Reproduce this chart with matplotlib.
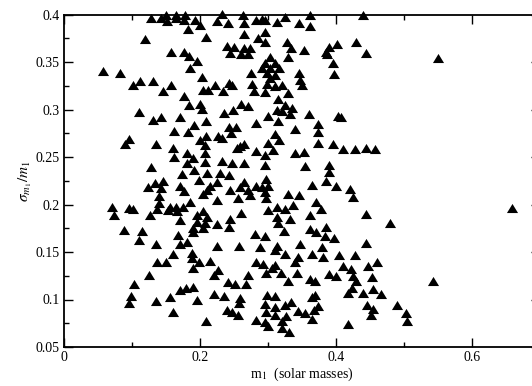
import matplotlib
matplotlib.use("Agg")
import matplotlib.pyplot as plt
from matplotlib.ticker import MultipleLocator, FuncFormatter

# Primary mass estimates (solar masses) and fractional uncertainty sigma_m1/m1
m1 = [
    0.128, 0.143, 0.150, 0.151, 0.165, 0.165, 0.178, 0.176, 0.193, 0.200,
    0.183, 0.209, 0.119, 0.157, 0.176, 0.184, 0.195, 0.186, 0.057, 0.083,
    0.203, 0.101, 0.112, 0.131, 0.145, 0.157, 0.205, 0.212, 0.177, 0.184,
    0.200, 0.203, 0.111, 0.142, 0.170, 0.131, 0.233, 0.225, 0.241, 0.263,
    0.264, 0.283, 0.291, 0.296, 0.313, 0.325, 0.346, 0.362, 0.362, 0.264,
    0.295, 0.285, 0.296, 0.239, 0.250, 0.244, 0.265, 0.274, 0.261, 0.270,
    0.328, 0.334, 0.353, 0.329, 0.303, 0.296, 0.310, 0.291, 0.303, 0.316,
    0.298, 0.310, 0.303, 0.275, 0.345, 0.347, 0.350, 0.276, 0.298, 0.310,
    0.321, 0.280, 0.295, 0.330, 0.222, 0.243, 0.247, 0.234, 0.314, 0.260,
    0.271, 0.325, 0.313, 0.336, 0.248, 0.235, 0.321, 0.361, 0.439, 0.401,
    0.389, 0.385, 0.387, 0.429, 0.444, 0.396, 0.397, 0.403, 0.408, 0.209,
    0.191, 0.162, 0.183, 0.096, 0.090, 0.135, 0.200, 0.209, 0.207, 0.160,
    0.162, 0.181, 0.189, 0.207, 0.181, 0.207, 0.128, 0.191, 0.173, 0.199,
    0.210, 0.145, 0.134, 0.123, 0.170, 0.142, 0.176, 0.140, 0.205, 0.211,
    0.140, 0.185, 0.156, 0.165, 0.175, 0.153, 0.166, 0.137, 0.070, 0.095,
    0.102, 0.073, 0.126, 0.195, 0.205, 0.210, 0.171, 0.283, 0.300, 0.314,
    0.332, 0.340, 0.242, 0.253, 0.246, 0.227, 0.232, 0.310, 0.300, 0.316,
    0.259, 0.265, 0.254, 0.283, 0.295, 0.308, 0.340, 0.353, 0.354, 0.232,
    0.247, 0.264, 0.296, 0.229, 0.243, 0.225, 0.215, 0.264, 0.259, 0.244,
    0.270, 0.283, 0.291, 0.297, 0.300, 0.295, 0.256, 0.274, 0.297, 0.330,
    0.346, 0.225, 0.337, 0.313, 0.261, 0.300, 0.325, 0.362, 0.244, 0.332,
    0.313, 0.314, 0.374, 0.374, 0.373, 0.396, 0.410, 0.428, 0.444, 0.457,
    0.389, 0.389, 0.386, 0.400, 0.364, 0.421, 0.425, 0.371, 0.378, 0.444,
    0.479, 0.195, 0.207, 0.189, 0.204, 0.190, 0.088, 0.114, 0.111, 0.167,
    0.135, 0.170, 0.181, 0.160, 0.188, 0.137, 0.150, 0.188, 0.198, 0.189,
    0.125, 0.103, 0.170, 0.179, 0.190, 0.098, 0.096, 0.136, 0.156, 0.195,
    0.161, 0.209, 0.225, 0.243, 0.324, 0.281, 0.296, 0.362, 0.371, 0.225,
    0.257, 0.288, 0.313, 0.310, 0.325, 0.347, 0.344, 0.215, 0.283, 0.292,
    0.311, 0.306, 0.319, 0.297, 0.340, 0.342, 0.227, 0.220, 0.271, 0.241,
    0.252, 0.267, 0.330, 0.362, 0.369, 0.221, 0.236, 0.259, 0.257, 0.298,
    0.310, 0.239, 0.247, 0.256, 0.295, 0.297, 0.311, 0.325, 0.334, 0.344,
    0.354, 0.367, 0.310, 0.327, 0.282, 0.295, 0.321, 0.386, 0.384, 0.397,
    0.444, 0.379, 0.364, 0.381, 0.405, 0.428, 0.411, 0.422, 0.447, 0.461,
    0.389, 0.400, 0.425, 0.429, 0.453, 0.423, 0.418, 0.440, 0.454, 0.466,
    0.369, 0.364, 0.373, 0.445, 0.454, 0.452, 0.490, 0.503, 0.505, 0.364,
    0.418, 0.550, 0.659, 0.543, 0.300, 0.320, 0.331,
]

sigma_frac = [
    0.396, 0.396, 0.399, 0.393, 0.400, 0.396, 0.400, 0.394, 0.394, 0.389,
    0.385, 0.376, 0.374, 0.361, 0.361, 0.356, 0.351, 0.344, 0.341, 0.338,
    0.334, 0.326, 0.330, 0.330, 0.320, 0.326, 0.321, 0.321, 0.314, 0.305,
    0.306, 0.301, 0.297, 0.292, 0.292, 0.289, 0.401, 0.393, 0.391, 0.399,
    0.391, 0.394, 0.395, 0.394, 0.392, 0.397, 0.391, 0.399, 0.388, 0.379,
    0.382, 0.375, 0.371, 0.367, 0.366, 0.360, 0.365, 0.365, 0.358, 0.358,
    0.371, 0.365, 0.363, 0.355, 0.355, 0.349, 0.349, 0.344, 0.344, 0.344,
    0.338, 0.336, 0.333, 0.338, 0.338, 0.331, 0.326, 0.327, 0.327, 0.325,
    0.326, 0.320, 0.318, 0.317, 0.326, 0.328, 0.326, 0.319, 0.311, 0.306,
    0.304, 0.305, 0.300, 0.302, 0.300, 0.296, 0.298, 0.295, 0.400, 0.369,
    0.366, 0.361, 0.358, 0.371, 0.359, 0.349, 0.337, 0.293, 0.292, 0.288,
    0.284, 0.277, 0.276, 0.269, 0.264, 0.264, 0.268, 0.272, 0.263, 0.260,
    0.250, 0.254, 0.249, 0.254, 0.244, 0.245, 0.239, 0.236, 0.232, 0.226,
    0.233, 0.225, 0.223, 0.218, 0.219, 0.217, 0.214, 0.209, 0.211, 0.215,
    0.202, 0.203, 0.197, 0.197, 0.197, 0.194, 0.193, 0.195, 0.197, 0.196,
    0.195, 0.189, 0.189, 0.189, 0.193, 0.187, 0.184, 0.286, 0.293, 0.288,
    0.295, 0.280, 0.282, 0.282, 0.275, 0.272, 0.270, 0.274, 0.265, 0.268,
    0.262, 0.264, 0.260, 0.256, 0.252, 0.257, 0.254, 0.255, 0.241, 0.246,
    0.244, 0.244, 0.242, 0.233, 0.231, 0.224, 0.220, 0.224, 0.218, 0.215,
    0.215, 0.220, 0.218, 0.227, 0.219, 0.213, 0.207, 0.210, 0.207, 0.211,
    0.210, 0.205, 0.200, 0.197, 0.191, 0.194, 0.195, 0.189, 0.185, 0.185,
    0.187, 0.181, 0.285, 0.276, 0.265, 0.264, 0.258, 0.258, 0.260, 0.258,
    0.242, 0.234, 0.225, 0.220, 0.221, 0.216, 0.208, 0.203, 0.195, 0.190,
    0.181, 0.182, 0.181, 0.175, 0.175, 0.171, 0.173, 0.172, 0.163, 0.168,
    0.158, 0.158, 0.161, 0.148, 0.149, 0.139, 0.140, 0.144, 0.140, 0.133,
    0.126, 0.116, 0.110, 0.112, 0.113, 0.104, 0.096, 0.098, 0.103, 0.099,
    0.087, 0.077, 0.179, 0.176, 0.172, 0.169, 0.167, 0.174, 0.171, 0.156,
    0.156, 0.155, 0.156, 0.152, 0.148, 0.158, 0.145, 0.141, 0.139, 0.137,
    0.136, 0.133, 0.128, 0.128, 0.139, 0.128, 0.131, 0.126, 0.126, 0.118,
    0.116, 0.116, 0.119, 0.122, 0.119, 0.106, 0.104, 0.102, 0.096, 0.105,
    0.104, 0.089, 0.087, 0.084, 0.095, 0.087, 0.092, 0.094, 0.097, 0.088,
    0.086, 0.089, 0.084, 0.083, 0.078, 0.076, 0.077, 0.176, 0.167, 0.165,
    0.160, 0.155, 0.148, 0.145, 0.147, 0.147, 0.135, 0.132, 0.135, 0.140,
    0.127, 0.125, 0.125, 0.119, 0.124, 0.112, 0.107, 0.107, 0.111, 0.106,
    0.105, 0.103, 0.093, 0.094, 0.090, 0.084, 0.094, 0.086, 0.077, 0.080,
    0.074, 0.354, 0.196, 0.119, 0.072, 0.070, 0.066,
]

x_ticks = [0, 0.2, 0.4, 0.6]
y_ticks = [0.05, 0.1, 0.15, 0.2, 0.25, 0.3, 0.35, 0.4]

plt.rcParams["font.family"] = ["Liberation Serif", "DejaVu Serif"]
plt.rcParams["mathtext.fontset"] = "stix"

W, H = 532, 386
fig = plt.figure(figsize=(W / 100, H / 100), dpi=100)
# the frame runs to m1 = 0.7, just past the right edge of the canvas
ax = fig.add_axes([64 / W, 39 / H, 476 / W, 332.5 / H])

tri = [(-1, -0.82), (1, -0.82), (0, 0.82)]
ax.plot(m1, sigma_frac, linestyle="none", marker=tri, markersize=8,
        color="black", markeredgewidth=0, clip_on=False)

ax.set_xlim(0, 0.7)
ax.set_ylim(0.05, 0.4)
ax.set_xticks(x_ticks)
ax.set_yticks(y_ticks)
ax.xaxis.set_minor_locator(MultipleLocator(0.1))
ax.yaxis.set_minor_locator(MultipleLocator(0.025))
fmt = FuncFormatter(lambda v, p: "0" if abs(v) < 1e-9 else f"{v:g}")
ax.xaxis.set_major_formatter(fmt)
ax.yaxis.set_major_formatter(fmt)

ax.tick_params(which="both", direction="in", top=True, right=True,
               labelsize=10, width=1.0, pad=3)
ax.tick_params(which="major", length=6.5)
ax.tick_params(which="minor", length=3.5)
for s in ax.spines.values():
    s.set_linewidth(1.3)

ax.set_xlabel(r"m$_1$  (solar masses)", fontsize=10, labelpad=1)
ax.set_ylabel(r"$\sigma_{m_1}/m_1$", fontsize=11, labelpad=1)

fig.savefig("out.png", dpi=100)
